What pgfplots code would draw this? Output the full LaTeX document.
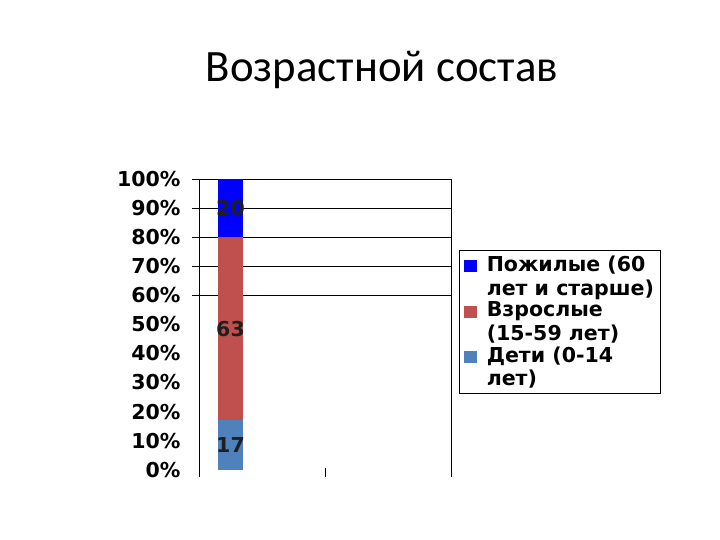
\documentclass[border=0pt]{standalone}
\usepackage{fontspec}
\setmainfont{Carlito}
\newfontfamily\vb{DejaVu Sans}
\usepackage{pgfplots}
\pgfplotsset{compat=1.18}

\definecolor{old}{HTML}{0000FF}
\definecolor{adult}{HTML}{C0504D}
\definecolor{kids}{HTML}{4F81BD}

\newcommand\lbl{\vb\bfseries\fontsize{20.6}{23.5}\selectfont}

\pgfplotsset{frame/.style={
  at={(199bp,63bp)}, anchor=south west,
  width=252bp, height=298bp, scale only axis,
  xmin=0, xmax=2, ymin=-2.5, ymax=100}}

\begin{document}
\begin{tikzpicture}
\useasboundingbox (0,0) rectangle (720bp,540bp);
\node[anchor=base, font=\fontsize{45}{50}\selectfont] at (382bp,458bp) {Возрастной состав};

\begin{axis}[
  frame,
  ybar stacked, bar width=25bp,
  axis line style={draw=none},
  xtick={1}, xticklabels={}, xtick pos=left, xtick align=inside,
  extra x ticks={0,2}, extra x tick labels={},
  extra x tick style={grid=major, major tick length=0pt},
  ytick={0,10,...,100},
  yticklabels={0\%,10\%,20\%,30\%,40\%,50\%,60\%,70\%,80\%,90\%,100\%},
  ytick pos=left, major tick length=9bp,
  y tick style={draw=none},
  yticklabel style={font=\lbl, xshift=-15bp},
  extra y ticks={60,70,80,90,100},
  extra y tick labels={},
  extra y tick style={grid=major, major tick length=7bp, tick align=outside,
    y tick style={draw=black}},
  grid style={black, line width=0.8bp},
  every tick/.style={black, line width=0.8bp},
  legend image code/.code={\draw[#1,draw=none] (3bp,4bp) rectangle (16bp,16bp);
    \path (24bp,4bp);},
  reverse legend,
  legend style={at={(1.0336,0.762)}, anchor=north west, draw=black, line width=0.6bp,
    font=\lbl, inner xsep=4bp, inner ysep=4bp, row sep=1bp,
    cells={anchor=west, align=left}},
]
\addplot[fill=kids, draw=none] coordinates {(0.25,17)};
\addlegendentry{Дети (0-14\\лет)}
\addplot[fill=adult, draw=none] coordinates {(0.25,63)};
\addlegendentry{Взрослые\\(15-59 лет)}
\addplot[fill=old, draw=none] coordinates {(0.25,20)};
\addlegendentry{Пожилые (60\\лет и старше)}
\end{axis}

% segment values, set at the middle of each segment
\begin{axis}[frame, hide axis, clip=false]
\addplot[draw=none, mark=none, nodes near coords, point meta=explicit symbolic,
  every node near coord/.style={anchor=center, font=\lbl, text=black!88}]
  table[meta=lbl] {
x y lbl
0.25 90 20
0.25 48.5 63
0.25 8.5 17
};
\end{axis}
\end{tikzpicture}
\end{document}
